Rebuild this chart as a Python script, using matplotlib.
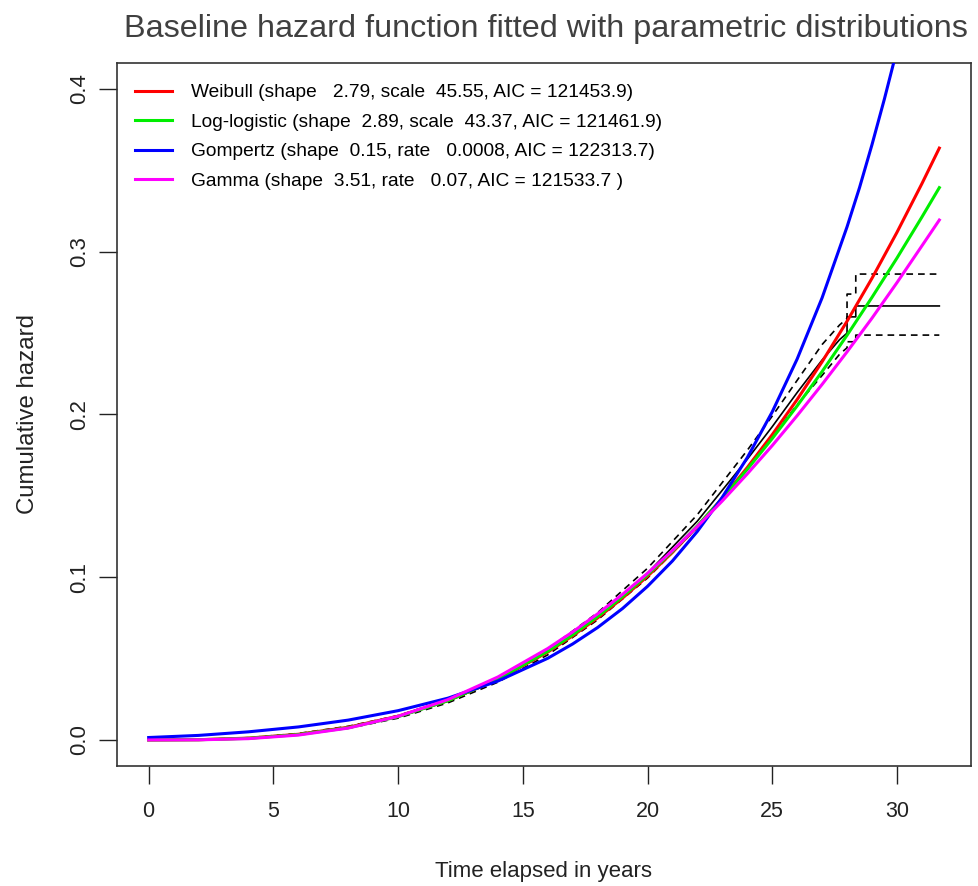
import matplotlib
matplotlib.use("Agg")
import matplotlib.pyplot as plt

plt.rcParams['font.family'] = ['Liberation Sans', 'DejaVu Sans']

# ---- data ----
years = [0, 2, 4, 6, 8, 10, 12, 14, 16, 17, 18, 19, 20, 21, 22, 23, 24, 25, 26, 27,
         28, 29, 30, 31, 31.7]
weibull = [0.0, 0.00016, 0.00113, 0.0035, 0.0078, 0.0146, 0.0242, 0.0372, 0.0540, 0.0640,
           0.0750, 0.0872, 0.1006, 0.1153, 0.1313, 0.1486, 0.1674, 0.1876, 0.2092, 0.2324,
           0.2573, 0.2837, 0.3119, 0.3418, 0.3637]
loglogistic = [0.0, 0.00014, 0.0010, 0.0033, 0.0075, 0.0143, 0.0241, 0.0374, 0.0545, 0.0646,
               0.0758, 0.0881, 0.1015, 0.1159, 0.1316, 0.1484, 0.1663, 0.1852, 0.2053, 0.2264,
               0.2487, 0.2720, 0.2961, 0.3213, 0.3394]
gompertz_years = [0, 2, 4, 6, 8, 10, 12, 14, 16, 17, 18, 19, 20, 21, 22, 23, 24, 25, 26, 27,
                  28, 28.5, 29, 29.5, 30, 31, 31.7]
gompertz = [0.0015, 0.0028, 0.0050, 0.0080, 0.0122, 0.0180, 0.0257, 0.0362, 0.0502, 0.0590,
            0.0691, 0.0808, 0.0944, 0.1100, 0.1282, 0.1492, 0.1735, 0.2016, 0.2341, 0.2717,
            0.3153, 0.3394, 0.3658, 0.3940, 0.4240, 0.4917, 0.5450]
gamma = [0.0, 0.00008, 0.0008, 0.0030, 0.0073, 0.0145, 0.0248, 0.0387, 0.0562, 0.0664,
         0.0775, 0.0895, 0.1024, 0.1164, 0.1312, 0.1469, 0.1635, 0.1809, 0.1993, 0.2185,
         0.2385, 0.2592, 0.2810, 0.3036, 0.3195]

na_time = [0, 2, 4, 6, 8, 10, 12, 14, 16, 18, 20, 22, 24, 25, 26, 27, 27.7,
           28.0, 28.0, 28.35, 28.35, 31.7]
na_est = [0.0, 0.0002, 0.0012, 0.0036, 0.0078, 0.0142, 0.0238, 0.0368, 0.0540, 0.0760,
          0.1025, 0.1345, 0.1725, 0.1925, 0.2135, 0.2335, 0.2460,
          0.2500, 0.2600, 0.2600, 0.2667, 0.2667]
na_upper = [0.0, 0.0003, 0.0014, 0.0040, 0.0084, 0.0150, 0.0248, 0.0381, 0.0557, 0.0782,
            0.1055, 0.1385, 0.1780, 0.1990, 0.2210, 0.2430, 0.2550,
            0.2590, 0.2740, 0.2740, 0.2863, 0.2863]
na_lower = [0.0, 0.0001, 0.0010, 0.0032, 0.0072, 0.0134, 0.0228, 0.0355, 0.0523, 0.0738,
            0.0995, 0.1305, 0.1670, 0.1860, 0.2060, 0.2240, 0.2370,
            0.2410, 0.2447, 0.2447, 0.2488, 0.2488]

labels = ["Weibull (shape   2.79, scale  45.55, AIC = 121453.9)",
          "Log-logistic (shape  2.89, scale  43.37, AIC = 121461.9)",
          "Gompertz (shape  0.15, rate   0.0008, AIC = 122313.7)",
          "Gamma (shape  3.51, rate   0.07, AIC = 121533.7 )"]
colors = ["#ff0000", "#00ee00", "#0000ff", "#ff00ff"]
x_ticks = [0, 5, 10, 15, 20, 25, 30]
y_ticks = [0.0, 0.1, 0.2, 0.3, 0.4]

fig = plt.figure(figsize=(9.79, 8.86), dpi=100)
ax = fig.add_axes([117/979, 1-766/886, (971-117)/979, (766-63)/886])

# Nelson-Aalen style estimate with CI
ax.plot(na_time, na_est, color='black', lw=1.2, zorder=2)
ax.plot(na_time, na_upper, color='black', lw=1.2, ls=(0, (4, 3)), zorder=2)
ax.plot(na_time, na_lower, color='black', lw=1.2, ls=(0, (4, 3)), zorder=2)

series = [(years, weibull), (years, loglogistic), (gompertz_years, gompertz), (years, gamma)]
for (xs, vals), c, lab in zip(series, colors, labels):
    ax.plot(xs, vals, color=c, lw=2.2, label=lab, zorder=3)

ax.set_xlim(-1.27, 32.97)
ax.set_ylim(-0.016, 0.416)
ax.set_xticks(x_ticks)
ax.set_xticklabels([str(v) for v in x_ticks])
ax.set_yticks(y_ticks)
ax.set_yticklabels([f"{v:.1f}" for v in y_ticks], rotation=90, va='center')
ax.tick_params(axis='both', direction='out', length=13, width=1, labelsize=16,
               colors='#222222', pad=6)
ax.tick_params(axis='x', pad=12, labelsize=15.5)
for s in ax.spines.values():
    s.set_linewidth(1.2)
    s.set_color('#333333')

ax.set_xlabel("Time elapsed in years", fontsize=16, color='#222222', labelpad=28)
ax.set_ylabel("Cumulative hazard", fontsize=17.3, color='#222222', labelpad=22)
fig.text(0.5 * (117 + 971) / 979 + 0.002, 1 - 29/886,
         "Baseline hazard function fitted with parametric distributions",
         ha='center', va='center', fontsize=23.3, color='#404040')

leg = ax.legend(loc='upper left', frameon=False, fontsize=13.8, handlelength=1.95,
                handletextpad=0.95, labelspacing=0.63, borderaxespad=0.0, borderpad=0.0,
                bbox_to_anchor=((135-117)/854, (766-84)/703))
for h in leg.legend_handles:
    h.set_linewidth(2.2)

fig.savefig("out.png", dpi=100)
